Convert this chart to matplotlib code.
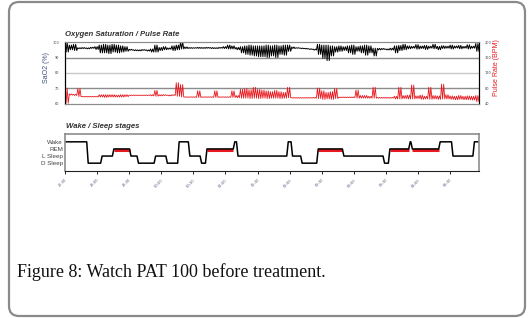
import matplotlib
matplotlib.use("Agg")
import matplotlib.pyplot as plt
from matplotlib.patches import FancyBboxPatch

# --- data ---
# SaO2 min / max in 4-minute bins
spo2_hi = [100, 98, 98.5, 96.3, 96.4, 96.2, 96.6, 97, 98, 98.5, 98, 98.5, 98, 97.5, 97,
           95.3, 95, 94.9, 95.1, 94.9, 95.5, 98, 96.5, 97, 96.2, 97.5, 98, 100, 96.8, 96.4,
           96.3, 96.5, 96.4, 96.5, 96.4, 96.3, 96.5, 97, 98, 97.5, 96.5, 97, 97.5, 98, 97.5,
           97.5, 97.5, 98, 97.5, 98, 97.5, 98, 98, 96.8, 96.3, 96.1, 95.9, 95.6, 95.4, 98.5,
           98, 98, 97.5, 97, 97.5, 97, 97.5, 98, 97, 97.5, 98, 97.5, 96, 95.9, 95.8,
           95.5, 96, 97.5, 97.8, 98.5, 97.5, 97.2, 98.3, 97.4, 97.8, 97.3, 98.5, 97.2, 97.6, 97.3,
           98, 97.4, 97.8, 97.2, 98.2, 97.3, 99]
spo2_lo = [93.5, 95, 94.5, 95.7, 95.8, 95.6, 95.9, 95.2, 93, 93, 92.5, 93.5, 93, 93.5, 94,
           94.7, 94.4, 94.3, 94.6, 94.2, 93.5, 93.5, 94.5, 95, 95.3, 94.5, 95, 95.5, 95.8, 95.9,
           96, 95.9, 95.9, 96, 95.8, 95.8, 96, 95.8, 95.5, 95.5, 95, 93, 92, 91.5, 91,
           90.5, 90.5, 90, 91, 90, 92, 91.5, 94, 95.8, 96, 95.7, 95.5, 95.2, 94.8, 92,
           89.5, 88, 91, 93.5, 94, 94.5, 93, 92, 94, 93, 91.5, 93, 91, 94.9, 95.2,
           94.9, 94.8, 93, 94.5, 95, 95.6, 96, 95.4, 95.8, 95.2, 96, 95.7, 95, 95.8, 96,
           95.5, 96.1, 95.6, 96, 95.5, 96, 94]
# pulse rate min / max in the same bins
pulse_hi = [81, 66, 65, 80, 59.5, 59.5, 59.5, 59.5, 64, 64, 64, 64, 63, 64, 64,
            63, 63, 63, 63, 63, 64, 75, 64, 64, 63, 64, 95, 90, 58.5, 58.5,
            58.5, 74, 58.5, 58.5, 58.5, 74, 58.5, 58.5, 58.5, 74, 62, 78, 80, 77, 83,
            78, 76, 74, 72, 75, 72, 70, 83, 56.5, 56.5, 56.5, 56.5, 56.5, 57, 81,
            74, 70, 72, 80, 58, 58, 58, 58, 76, 62, 62, 60, 83, 57, 57,
            57, 57, 60, 83, 62, 63, 89, 61, 63, 60, 83, 62, 61, 91, 64,
            61, 60, 62, 60, 61, 60, 62]
pulse_lo = [42, 63, 62, 59, 58.3, 58.3, 58.3, 58.3, 58, 57, 58, 58, 58, 58, 59,
            62, 62, 62, 62, 62, 61, 60, 61, 62, 61, 62, 60, 58, 57.3, 57.3,
            57.3, 57, 57.3, 57.3, 57.3, 57, 57.3, 57.3, 57.3, 57, 56, 55, 55, 54, 55,
            54, 55, 54, 55, 55, 54, 55, 56, 55.2, 55.2, 55.2, 55.2, 55.2, 55, 54,
            52, 53, 52, 54, 56.5, 56.5, 56.5, 56.5, 55, 55, 55, 55, 55, 55, 55,
            55, 55, 53, 53, 54, 53, 53, 54, 52, 53, 52, 53, 52, 53, 53,
            52, 51, 52, 51, 51, 50, 46]
bin_min = 4

# sleep stages: start minute of each epoch and its stage
stage_start = [0, 21, 34, 45, 61, 68, 84, 95, 106, 116, 127, 132, 158, 161, 208, 212,
               221, 236, 260, 298, 303, 322, 324, 350, 362, 382]
stage_name = ['W', 'D', 'L', 'R', 'L', 'D', 'L', 'D', 'W', 'L', 'D', 'R', 'W', 'L', 'W', 'L',
              'D', 'R', 'L', 'D', 'R', 'W', 'R', 'W', 'L', 'W']
end_min = 387
stage_labels = ['D Sleep', 'L Sleep', 'REM', 'Wake']
time_ticks = ['22:30', '23:00', '23:30', '00:00', '00:30', '01:00', '01:30',
              '02:00', '02:30', '03:00', '03:30', '04:00', '04:30']

fig = plt.figure(figsize=(5.32, 3.18), dpi=100)
W, H = 532, 318


def box(l, t, r, b):
    return [l / W, 1 - b / H, (r - l) / W, (b - t) / H]


fig.patches.append(FancyBboxPatch((0.09, 0.02), 5.16, 3.14, boxstyle='round,pad=0,rounding_size=0.1',
                                  transform=fig.dpi_scale_trans, fc='none', ec='#8a8a8a', lw=1.6))

# ---- oxygen / pulse panel ----
ax = fig.add_axes(box(65, 42, 479, 104))
ax2 = ax.twinx()
# each bin drawn as a min/max swing, like the densely sampled trace
xs, s_y, p_y = [], [], []
for i in range(len(spo2_hi)):
    t0 = bin_min * i
    xs += [t0, t0 + 1, t0 + 2, t0 + 3]
    s_y += [spo2_hi[i], spo2_lo[i], spo2_hi[i], spo2_lo[i]]
    p_y += [pulse_hi[i], pulse_lo[i], pulse_hi[i], pulse_lo[i]]
ax.plot(xs, s_y, color='black', lw=0.7)
ax2.plot(xs, p_y, color='#e8191f', lw=0.6)
ax.set_xlim(0, end_min)
ax.set_ylim(60, 100)
ax2.set_ylim(40, 200)
ax.set_yticks([60, 70, 80, 90, 100])
ax2.set_yticks([40, 80, 120, 160, 200])
for g, c in [(70, '#8c8c8c'), (80, '#c8c8c8'), (90, '#8c8c8c')]:
    ax.axhline(g, color=c, lw=1.0, zorder=0)
ax.set_xticks([])
for a in (ax, ax2):
    a.tick_params(axis='y', length=0, labelsize=2.5, pad=4, labelcolor='#444444')
    a.spines['top'].set_color('#8c8c8c')
    a.spines['bottom'].set_color('#8c8c8c')
    a.spines['left'].set_color('black')
    a.spines['right'].set_color('black')
fig.text(65 / W, 1 - 34 / H, 'Oxygen Saturation / Pulse Rate', fontsize=5.6, fontweight='bold',
         style='italic', color='#333333', family='Liberation Sans', va='center')
fig.text(47 / W, 1 - 67 / H, 'SaO2 (%)', rotation=90, fontsize=5, color='#3d4f7c',
         family='Liberation Sans', ha='center', va='center')
fig.text(496 / W, 1 - 68 / H, 'Pulse Rate (BPM)', rotation=90, fontsize=5, color='#e8191f',
         family='Liberation Sans', ha='center', va='center')

# ---- hypnogram ----
bx = fig.add_axes(box(65, 134, 479, 171))
level = {'D': 0, 'L': 1, 'R': 2, 'W': 3}
hx, hy = [], []
ends = stage_start[1:] + [end_min]
for s, e, st in zip(stage_start, ends, stage_name):
    hx += [s + 0.7 if s > 0 else s, e - 0.7 if e < end_min else e]
    hy += [level[st], level[st]]
    if st == 'R':
        bx.plot([s + 0.7, e - 0.7], [level[st] - 0.17] * 2, color='#e8191f', lw=2.2,
                solid_capstyle='butt')
bx.plot(hx, hy, color='black', lw=1.1)
bx.set_xlim(0, end_min)
bx.set_ylim(-1.1, 4.1)
bx.set_yticks(range(4))
bx.set_yticklabels(stage_labels, fontsize=4.5, color='#444444', family='Liberation Sans')
bx.tick_params(axis='y', length=0, pad=1.5)
bx.set_xticks(range(0, 361, 30))
bx.set_xticklabels(time_ticks, rotation=45, fontsize=2.6, color='#556080', ha='right',
                   rotation_mode='anchor')
bx.tick_params(axis='x', length=2, width=0.6, pad=3)
for sp in ('top', 'left', 'right'):
    bx.spines[sp].set_color('#8c8c8c')
    bx.spines[sp].set_linewidth(1.2)
bx.spines['bottom'].set_color('#222222')
fig.text(66 / W, 1 - 127 / H, 'Wake / Sleep stages', fontsize=5.6, fontweight='bold',
         style='italic', color='#333333', family='Liberation Sans', va='center')

fig.text(17 / W, 1 - 272 / H, 'Figure 8: Watch PAT 100 before treatment.', fontsize=13,
         family='Liberation Serif', color='#111111', va='center')

fig.savefig('out.png', dpi=100)
